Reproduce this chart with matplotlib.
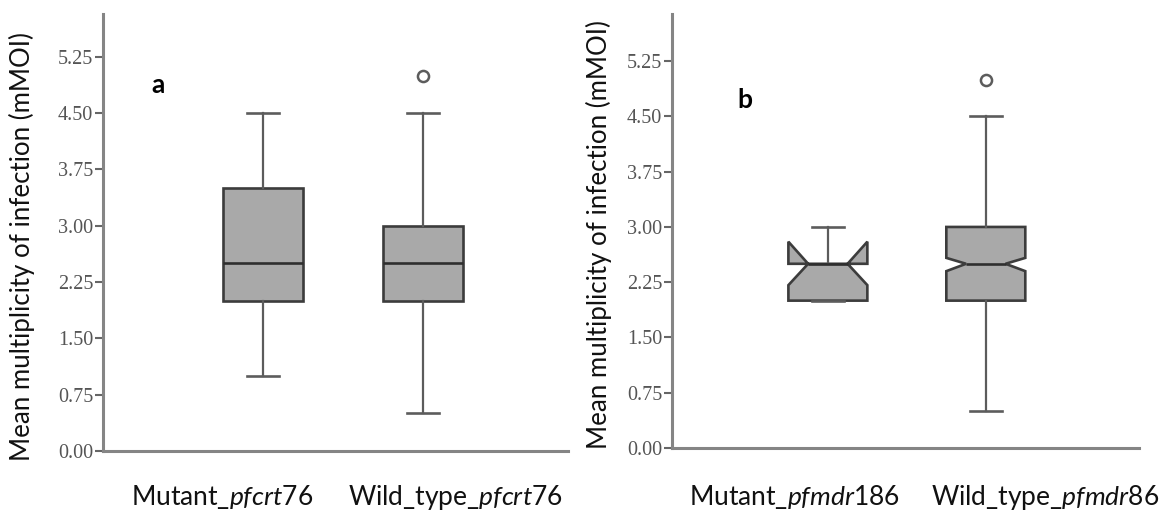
import matplotlib
matplotlib.use("Agg")
import matplotlib.pyplot as plt
import numpy as np

# ---------------- data ----------------
groups_a = ["Mutant_$\\mathit{pfcrt}$76", "Wild_type_$\\mathit{pfcrt}$76"]
groups_b = ["Mutant_$\\mathit{pfmdr1}$86", "Wild_type_$\\mathit{pfmdr8}$6"]

whislo_a = [1.0, 0.5]
q1_a = [2.0, 2.0]
med_a = [2.5, 2.5]
q3_a = [3.5, 3.0]
whishi_a = [4.5, 4.5]
fliers_a = [[], [5.0]]

whislo_b = [2.0, 0.5]
q1_b = [2.0, 2.0]
med_b = [2.5, 2.5]
q3_b = [2.5, 3.0]
whishi_b = [3.0, 4.5]
cilo_b = [2.21, 2.40]
cihi_b = [2.80, 2.58]
fliers_b = [[], [5.0]]

yticks = [0.0, 0.75, 1.5, 2.25, 3.0, 3.75, 4.5, 5.25]
ylabel = "Mean multiplicity of infection (mMOI)"

# ---------------- style ----------------
plt.rcParams["mathtext.fontset"] = "custom"
plt.rcParams["mathtext.rm"] = "Lato"
plt.rcParams["mathtext.it"] = "Lato:italic"

W, H = 1164, 516
fig = plt.figure(figsize=(W / 100, H / 100), dpi=100)

def px(x0, y0, x1, y1):
    return [x0 / W, 1 - y1 / H, (x1 - x0) / W, (y1 - y0) / H]

ax_a = fig.add_axes(px(103, 14, 568, 451))
ax_b = fig.add_axes(px(672, 14, 1139, 448))

box_face = "#a9a9a9"
box_edge = "#3c3c3c"
whisk_col = "#5c5c5c"
spine_col = "#858585"

def make_stats(wlo, q1, med, q3, whi, fl, cilo=None, cihi=None):
    out = []
    for i in range(len(q1)):
        d = dict(whislo=wlo[i], q1=q1[i], med=med[i], q3=q3[i],
                 whishi=whi[i], fliers=fl[i])
        if cilo is not None:
            d["cilo"] = cilo[i]
            d["cihi"] = cihi[i]
        out.append(d)
    return out

def draw(ax, stats, notch, xlim, ylim):
    ax.bxp(stats, positions=[1, 2], widths=0.5, capwidths=0.2,
           shownotches=notch, patch_artist=True,
           boxprops=dict(facecolor=box_face, edgecolor=box_edge, linewidth=1.9),
           whiskerprops=dict(color=whisk_col, linewidth=1.6),
           capprops=dict(color=whisk_col, linewidth=1.9),
           medianprops=dict(color="#2e2e2e", linewidth=1.9),
           flierprops=dict(marker="o", markersize=8, markerfacecolor="white",
                           markeredgecolor="#5c5c5c", markeredgewidth=1.8))
    ax.set_xlim(*xlim)
    ax.set_ylim(*ylim)
    ax.set_yticks(yticks)
    ax.set_yticklabels([f"{t:.2f}" for t in yticks],
                       fontfamily="Liberation Serif", fontsize=14.5,
                       color="#555555")
    ax.set_xticks([])
    for s in ["top", "right"]:
        ax.spines[s].set_visible(False)
    for s in ["left", "bottom"]:
        ax.spines[s].set_color(spine_col)
        ax.spines[s].set_linewidth(2.2)
    ax.tick_params(axis="y", length=6, width=1.5, color="#666666", pad=1)

draw(ax_a, make_stats(whislo_a, q1_a, med_a, q3_a, whishi_a, fliers_a),
     False, (0.0, 2.906), (0, 5.82))
draw(ax_b, make_stats(whislo_b, q1_b, med_b, q3_b, whishi_b, fliers_b,
                      cilo_b, cihi_b),
     True, (0.013, 2.97), (0, 5.89))

# y labels
fig.text(22 / W, 1 - 247 / H, ylabel, rotation=90, ha="center", va="center",
         fontfamily="Lato", fontsize=18.6, color="#111111")
fig.text(599 / W, 1 - 235 / H, ylabel, rotation=90, ha="center", va="center",
         fontfamily="Lato", fontsize=18.6, color="#111111")

# x category labels
lab_y = 1 - 505 / H
for xc, t in zip([222, 455], groups_a):
    fig.text(xc / W, lab_y, t, ha="center", va="baseline",
             fontfamily="Lato", fontsize=19, color="#111111")
for xc, t in zip([794, 1045], groups_b):
    fig.text(xc / W, lab_y, t, ha="center", va="baseline",
             fontfamily="Lato", fontsize=19, color="#111111")

# panel letters
fig.text(158 / W, 1 - 85 / H, "a", ha="center", va="center",
         fontfamily="Lato", fontweight="bold", fontsize=19)
fig.text(745 / W, 1 - 100 / H, "b", ha="center", va="center",
         fontfamily="Lato", fontweight="bold", fontsize=19)

fig.savefig("out.png", dpi=100)
